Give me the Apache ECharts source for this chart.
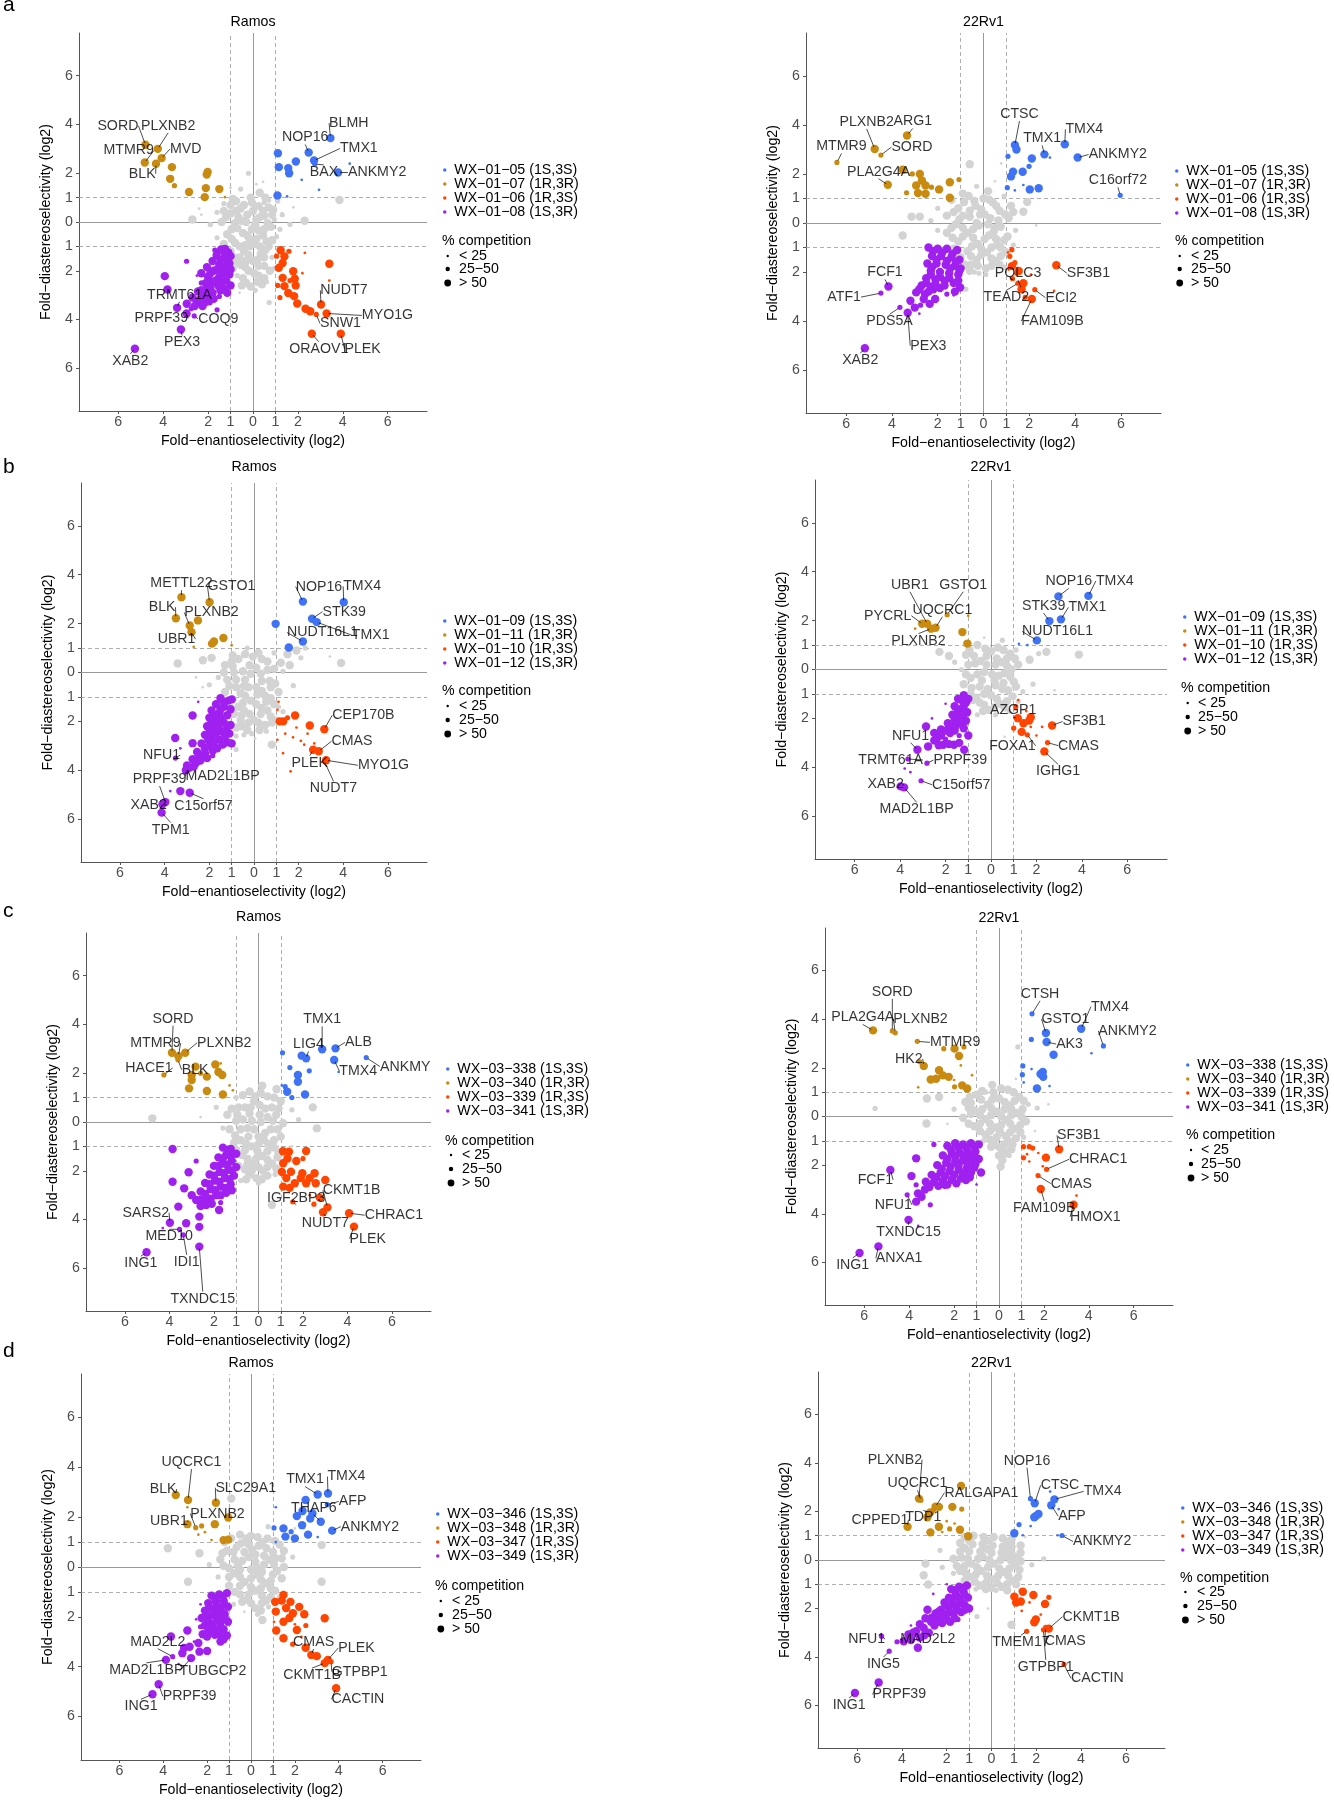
<!DOCTYPE html>
<html><head><meta charset="utf-8">
<script src="https://cdn.jsdelivr.net/npm/echarts@6/dist/echarts.min.js"></script>
<style>html,body{margin:0;padding:0;background:#fff}#c{width:1334px;height:1800px}</style>
</head><body><div id="c"></div>
<script>
// ---------- tick labels and texts ----------
const tickValues = [-6,-4,-2,-1,0,1,2,4,6];
const sizeLegendLabels = ['< 25','25\u221250','> 50'];
const compTitle = '% competition';
const xName = 'Fold\u2212enantioselectivity (log2)';
const yName = 'Fold\u2212diastereoselectivity (log2)';
const cellLines = ['Ramos','22Rv1','Ramos','22Rv1','Ramos','22Rv1','Ramos','22Rv1'];
const panelLetters = ['a','b','c','d'];
const namesA = ['WX\u221201\u221205 (1S,3S)','WX\u221201\u221207 (1R,3R)','WX\u221201\u221206 (1R,3S)','WX\u221201\u221208 (1S,3R)'];
const namesB = ['WX\u221201\u221209 (1S,3S)','WX\u221201\u221211 (1R,3R)','WX\u221201\u221210 (1R,3S)','WX\u221201\u221212 (1S,3R)'];
const namesC = ['WX\u221203\u2212338 (1S,3S)','WX\u221203\u2212340 (1R,3R)','WX\u221203\u2212339 (1R,3S)','WX\u221203\u2212341 (1S,3R)'];
const namesD = ['WX\u221203\u2212346 (1S,3S)','WX\u221203\u2212348 (1R,3R)','WX\u221203\u2212347 (1R,3S)','WX\u221203\u2212349 (1S,3R)'];

// ---------- data: [enantio log2, diastereo log2, competition class 1:<25 2:25-50 3:>50] ----------
// Panel a, Ramos
const greyA1 = [[-0.2,2.0,2],[0.15,1.55,1],[-0.55,1.35,2],[0.3,1.2,3],[-0.1,1.0,3],[-0.9,0.95,3],[0.7,0.9,2],[1.1,0.85,2],[-1.3,0.75,2],[-0.4,0.7,3],[0.25,0.65,3],[0.9,0.5,3],[-0.75,0.45,3],[-1.6,0.4,2],[-2.3,0.3,1],[-2.7,0.1,3],[-1.2,0.2,3],[-0.25,0.3,3],[0.5,0.25,3],[1.3,0.3,2],[2.3,0.05,3],[1.65,-0.1,2],[-1.9,-0.1,2],[-0.8,-0.05,3],[0.1,-0.1,3],[0.8,-0.2,3],[-0.45,-0.45,3],[0.45,-0.55,3],[-1.15,-0.5,3],[1.05,-0.6,2],[-1.6,-0.65,2],[-0.8,-0.85,3],[0.05,-0.9,3],[0.7,-1.0,3],[-0.4,-1.2,3],[0.35,-1.3,3],[-0.85,-1.45,3],[0.85,-1.45,2],[0,-1.6,3],[-0.55,-1.75,3],[0.5,-1.8,3],[-0.2,-2.0,3],[0.25,-2.2,3],[-0.7,-2.2,2],[0.6,-2.45,2],[-0.3,-2.5,3],[0.1,-2.8,2],[-0.6,-2.9,1],[0.72,-3.3,2],[3.85,0.9,3],[-1.5,-1.2,2],[1.2,-1.3,1],[0.5,-0.3,3],[-0.5,0.05,3],[0.95,0.1,2],[-2.4,0.55,1],[1.8,0.6,1],[-1.0,1.4,1],[0.45,1.65,1],[-0.9,-2.6,1],[-0.15,-0.7,3],[0.3,-1.0,3],[-0.6,-1.0,3],[-0.3,0.0,3],[0.3,0.2,3],[-1.0,0.7,3],[0.55,1.0,3],[-0.65,0.2,3],[0.7,0.6,3],[-0.95,-0.3,3],[0.25,-0.35,3],[0.85,-0.75,3],[-0.35,-0.95,3],[0.55,-1.15,3],[-0.6,-1.45,3],[0.2,-1.55,3],[-0.9,-1.9,3],[0.75,-2.0,3],[-0.45,-2.3,3],[0.4,-2.55,3],[-0.1,-2.65,3],[-1.3,-0.9,3],[1.2,-0.3,2],[-1.4,0.0,3],[0.0,0.45,3],[-0.2,-1.35,3],[0.95,-1.9,2],[-0.05,0.8,3],[-0.55,0.55,3],[0.45,0.45,3],[-1.0,0.35,3],[0.15,0.1,3],[-0.05,-0.3,3],[-0.7,-0.25,3],[0.65,-0.05,3],[-0.25,-0.55,3],[0.6,-0.8,3],[-0.95,-0.7,3],[0.15,-0.7,3],[-0.15,-1.0,3],[0.5,-1.45,3],[-0.3,-1.6,3],[0.25,-1.8,3],[-0.75,-1.6,3],[-0.35,-1.85,3],[0.05,-2.1,3],[0.5,-2.3,3],[-0.5,-2.6,3],[0.2,-2.45,3],[-1.0,-1.2,3],[0.85,0.3,3],[-1.3,0.45,3],[-0.75,0.85,3],[0.5,0.8,2]];
const blueA1 = [[3.45,3.44,3],[2.48,2.85,3],[2.72,2.52,3],[1.11,2.82,3],[1.15,2.25,3],[1.61,2.0,3],[1.91,2.48,3],[1.57,2.21,3],[2.75,2.38,2],[3.79,2.03,3],[4.31,2.39,1],[2.17,1.73,1],[2.94,1.32,1],[1.09,1.09,3],[1.52,1.05,1]];
const orangeA1 = [[-4.79,3.17,3],[-4.24,3.0,3],[-4.82,2.44,3],[-4.07,2.62,3],[-4.32,2.39,3],[-3.61,2.25,3],[-3.69,1.77,3],[-3.5,1.49,2],[-2.85,1.23,3],[-2.02,2.05,3],[-2.06,1.95,3],[-2.1,1.39,3],[-1.5,1.35,3],[-2.15,1.02,3],[-1.25,1.02,1]];
const redA1 = [[1.23,-1.16,3],[1.40,-1.41,3],[1.32,-1.68,3],[1.15,-1.88,3],[1.79,-2.02,3],[1.86,-2.33,3],[1.32,-2.29,3],[1.40,-2.63,3],[1.57,-2.91,3],[1.83,-3.04,3],[1.97,-3.34,3],[2.34,-3.56,3],[2.55,-3.66,3],[3.03,-3.38,3],[3.28,-3.75,3],[2.82,-3.79,2],[2.62,-4.58,3],[3.91,-4.58,3],[3.40,-1.71,3],[2.31,-1.27,1],[2.2,-2.1,1],[3.4,-2.4,1],[1.05,-1.4,2],[1.2,-3.1,2],[1.1,-2.6,2],[1.6,-1.2,2],[1.9,-2.6,3],[1.65,-2.4,2]];
const purpleA1 = [[-1.42,-1.13,3],[-1.1,-1.25,3],[-1.62,-1.35,3],[-1.25,-1.5,3],[-1.05,-1.7,3],[-1.8,-1.6,3],[-1.5,-1.75,3],[-2.05,-1.85,3],[-1.3,-1.95,3],[-1.75,-2.0,3],[-2.3,-2.1,3],[-1.05,-2.15,3],[-2.0,-2.25,3],[-1.5,-2.25,3],[-1.2,-2.4,3],[-1.8,-2.45,3],[-2.3,-2.5,2],[-1.55,-2.6,3],[-2.05,-2.7,3],[-1.25,-2.75,3],[-2.45,-2.85,3],[-1.8,-2.9,3],[-2.2,-3.05,3],[-2.7,-3.1,3],[-1.5,-3.05,2],[-1.95,-3.25,3],[-2.5,-3.3,3],[-2.95,-3.35,3],[-2.25,-3.45,3],[-2.75,-3.55,2],[-1.6,-3.6,2],[-1.0,-1.4,3],[-1.0,-2.6,3],[-1.0,-1.95,3],[-2.96,-1.61,2],[-3.93,-2.22,3],[-3.81,-2.77,3],[-3.38,-3.52,3],[-2.96,-3.75,3],[-2.62,-3.85,2],[-3.21,-4.41,3],[-5.26,-5.2,3],[-1.25,-1.1,3],[-1.7,-1.15,2],[-2.5,-2.2,1],[-1.25,-1.3,3],[-1.45,-1.55,3],[-1.2,-1.8,3],[-1.6,-1.95,3],[-1.9,-2.1,3],[-1.35,-2.1,3],[-1.65,-2.4,3],[-2.1,-2.5,3],[-1.4,-2.5,3],[-1.9,-2.7,3],[-1.45,-2.8,3],[-2.3,-2.8,3],[-2.0,-2.95,3],[-2.4,-3.2,3],[-1.75,-3.15,3],[-2.15,-3.3,3],[-2.6,-3.45,3],[-1.15,-2.9,3]];
const genesA1 = [['SORD',-4.79,3.17],['PLXNB2',-4.24,3.0],['MTMR9',-4.82,2.44],['MVD',-4.07,2.62],['BLK',-4.32,2.39],['NOP16',2.48,2.85],['BLMH',3.45,3.44],['TMX1',2.72,2.52],['BAX',2.75,2.38],['ANKMY2',3.79,2.03],['NUDT7',3.03,-3.38],['MYO1G',3.28,-3.75],['SNW1',2.82,-3.79],['ORAOV1',2.62,-4.58],['PLEK',3.91,-4.58],['TRMT61A',-3.38,-3.52],['PRPF39',-2.96,-3.75],['COQ9',-2.62,-3.85],['PEX3',-3.21,-4.41],['XAB2',-5.26,-5.2]];
// Panel a, 22Rv1
const greyA2 = [[-0.6,2.4,3],[0.77,2.43,1],[-0.3,1.5,2],[0.2,1.3,3],[-0.9,1.2,3],[0.9,1.1,2],[-1.4,0.95,3],[-0.4,0.9,3],[0.4,0.85,3],[1.91,0.86,3],[1.2,0.7,3],[-1.1,0.6,3],[-0.1,0.55,3],[0.7,0.5,3],[1.74,0.46,3],[-1.6,0.3,3],[-0.6,0.25,3],[0.3,0.2,3],[1.1,0.2,3],[-3.14,0.26,3],[-2.78,0.26,3],[-2.3,0.1,2],[-1.2,-0.05,3],[-0.2,-0.1,3],[0.75,-0.15,3],[1.4,-0.3,2],[-3.53,-0.51,3],[-1.6,-0.4,3],[-0.7,-0.4,3],[0.25,-0.5,3],[1.05,-0.55,3],[-1.1,-0.75,3],[-0.25,-0.85,3],[0.6,-0.9,3],[-0.7,-1.15,3],[0.15,-1.2,3],[1.0,-1.2,3],[-0.3,-1.5,3],[0.55,-1.55,3],[-0.8,-1.7,3],[0.1,-1.85,3],[0.9,-1.8,2],[-0.4,-2.0,2],[-0.77,-2.7,2],[2.3,-0.1,1],[-2.0,0.6,2],[0.5,1.7,1],[-0.3,0.0,3],[0.5,-0.2,3],[-1.3,0.45,3],[-0.35,0.7,3],[0.55,0.7,3],[-0.9,0.3,3],[0.05,0.35,3],[0.95,0.35,3],[-1.4,-0.2,3],[-0.45,-0.25,3],[0.45,-0.35,3],[-0.9,-0.55,3],[0.05,-0.65,3],[0.9,-0.7,3],[-0.5,-0.95,3],[0.35,-1.0,3],[-1.0,-1.4,3],[-0.1,-1.3,3],[0.75,-1.35,3],[-0.55,-1.7,3],[0.35,-1.75,3],[-0.2,-2.05,2],[1.3,0.45,3],[0.0,1.0,3],[-0.65,1.1,3],[-2.0,-0.3,2],[-0.85,0.85,3],[0.25,0.95,3],[-0.15,0.35,3],[-0.6,0.5,3],[0.65,0.1,3],[-1.05,0.15,3],[-0.9,-0.2,3],[0.2,-0.05,3],[-0.45,-0.6,3],[0.55,-0.65,3],[-1.35,-0.6,3],[-0.1,-1.05,3],[0.75,-1.0,3],[-0.55,-1.35,3],[0.35,-1.45,3],[-0.25,-1.75,3],[0.7,-1.7,3],[-1.3,-1.05,3],[1.3,-0.9,2],[-0.6,-1.95,3],[0.1,-2.1,2]];
const blueA2 = [[1.37,3.18,3],[1.44,3.0,3],[2.66,2.8,3],[3.55,3.21,3],[4.11,2.67,3],[5.97,1.13,2],[1.07,2.72,2],[2.11,2.63,3],[1.99,2.31,2],[1.71,2.09,3],[1.29,2.09,3],[1.2,1.9,3],[1.04,1.44,2],[2.02,1.37,3],[2.41,1.42,3],[1.37,1.33,1],[2.9,2.67,1],[1.74,1.55,1]];
const orangeA2 = [[-3.34,3.57,3],[-4.75,3.02,3],[-4.48,2.77,2],[-6.4,2.47,2],[-4.18,1.56,3],[-3.53,2.17,3],[-3.11,2.0,2],[-2.78,2.0,3],[-2.69,1.73,3],[-2.53,1.53,3],[-2.94,1.53,3],[-3.36,1.23,2],[-2.86,1.22,3],[-2.53,1.19,3],[-1.47,1.66,3],[-1.94,1.37,3],[-1.47,1.03,3],[-1.07,1.77,2],[-2.27,1.46,2]];
const redA2 = [[1.24,-1.09,2],[1.15,-1.36,2],[1.37,-1.62,2],[1.24,-1.76,3],[1.54,-1.96,3],[1.27,-2.27,2],[1.74,-2.46,3],[1.66,-2.7,3],[2.11,-3.1,3],[2.24,-2.72,2],[3.18,-1.72,3],[1.82,-3.03,2],[1.5,-2.46,2],[3.08,-2.77,1],[2.07,-2.1,1],[1.07,-1.2,1],[1.45,-2.05,2],[1.1,-1.9,1]];
const purpleA2 = [[-2.4,-1.0,3],[-2.0,-1.05,3],[-1.6,-1.05,3],[-1.15,-1.1,3],[-2.25,-1.35,3],[-1.85,-1.35,3],[-1.4,-1.4,3],[-1.05,-1.5,3],[-2.45,-1.65,3],[-2.05,-1.65,3],[-1.65,-1.7,3],[-1.25,-1.75,3],[-2.3,-1.95,3],[-1.9,-2.0,3],[-1.5,-2.05,3],[-1.1,-2.1,3],[-2.5,-2.25,3],[-2.1,-2.3,3],[-1.7,-2.35,3],[-1.3,-2.45,3],[-2.7,-2.55,3],[-2.3,-2.6,3],[-1.9,-2.65,3],[-1.02,-2.63,3],[-2.94,-2.83,3],[-2.55,-2.9,3],[-2.19,-2.7,3],[-1.6,-2.9,2],[-2.61,-3.1,3],[-2.11,-3.1,3],[-3.19,-3.17,3],[-3.0,-3.45,3],[-1.3,-2.95,1],[-4.15,-2.59,3],[-4.48,-2.86,2],[-3.65,-3.44,2],[-3.31,-3.66,3],[-5.18,-5.11,3],[-2.8,-3.7,1],[-1.0,-1.85,3],[-2.2,-1.15,3],[-1.8,-1.2,3],[-1.35,-1.25,3],[-2.05,-1.5,3],[-1.6,-1.55,3],[-1.2,-1.6,3],[-2.25,-1.8,3],[-1.45,-1.85,3],[-1.05,-1.95,3],[-2.3,-2.1,3],[-1.9,-2.2,3],[-1.5,-2.25,3],[-2.5,-2.45,3],[-1.1,-2.35,3],[-2.1,-2.5,3],[-1.7,-2.55,3],[-2.4,-2.8,3],[-1.25,-2.8,3],[-2.8,-2.7,3],[-2.35,-3.3,3],[-2.75,-3.35,2]];
const genesA2 = [['PLXNB2',-4.75,3.02],['ARG1',-3.34,3.57],['MTMR9',-6.4,2.47],['SORD',-4.48,2.77],['PLA2G4A',-4.18,1.56],['CTSC',1.37,3.18],['TMX1',2.66,2.8],['TMX4',3.55,3.21],['ANKMY2',4.11,2.67],['C16orf72',5.97,1.13],['SF3B1',3.18,-1.72],['PQLC3',1.66,-2.7],['TEAD2',1.5,-2.46],['ECI2',2.24,-2.72],['FAM109B',2.11,-3.1],['FCF1',-4.15,-2.59],['ATF1',-4.48,-2.86],['PDS5A',-3.65,-3.44],['PEX3',-3.31,-3.66],['XAB2',-5.18,-5.11]];
// Panel b, Ramos
const greyB1 = [[-3.42,0.37,3],[-2.29,0.5,3],[-1.9,0.6,3],[-0.95,0.7,3],[3.9,0.39,3],[3.4,0.65,1],[1.76,-0.54,2],[0.8,-2.95,3],[-0.8,-3.15,2],[-2.3,-0.6,1],[1.2,0.4,3],[1.5,0.75,3],[1.9,0.9,3],[2.1,0.6,2],[1.6,0.3,3],[0.9,0.8,2],[2.3,1.0,2],[-0.3,1.0,2],[0.2,0.8,3],[-0.7,0.55,3],[0.6,0.45,3],[-1.3,0.3,3],[-0.2,0.3,3],[0.9,0.15,3],[-0.9,0.0,3],[0.3,-0.05,3],[-1.6,-0.2,2],[-0.4,-0.3,3],[0.7,-0.35,3],[-1.1,-0.55,3],[0.1,-0.6,3],[1.1,-0.8,3],[-0.6,-0.85,3],[0.5,-0.95,3],[-0.15,-1.15,3],[0.9,-1.3,3],[-0.7,-1.4,3],[0.35,-1.45,3],[-0.2,-1.7,3],[0.75,-1.8,3],[-0.6,-1.95,3],[0.2,-2.05,3],[-0.3,-2.35,3],[0.55,-2.4,2],[-0.8,-2.6,2],[0.05,-2.7,1],[1.3,-1.6,2],[-2.0,-0.5,2],[-2.6,-0.2,1],[-1.0,0.45,3],[0.35,0.55,3],[-0.4,0.75,3],[-1.35,0.0,3],[-0.5,0.05,3],[0.6,0.1,3],[-0.8,-0.3,3],[0.35,-0.35,3],[-1.3,-0.8,3],[-0.25,-0.6,3],[0.75,-0.6,3],[-0.95,-1.1,3],[0.15,-0.9,3],[0.55,-1.2,3],[-0.45,-1.55,3],[0.6,-1.55,3],[-0.9,-1.7,3],[0.0,-1.95,3],[0.5,-2.15,3],[-0.55,-2.2,3],[-0.1,-2.5,2],[1.3,0.05,2],[1.0,-1.9,2],[-0.05,0.65,3],[-0.95,0.25,3],[0.1,0.2,3],[-0.15,-0.05,3],[-1.2,-0.3,3],[0.95,-0.45,3],[-0.45,-0.55,3],[-0.8,-0.6,3],[0.35,-0.75,3],[-0.4,-0.95,3],[0.1,-1.3,3],[0.75,-1.05,3],[-1.1,-1.4,3],[-0.5,-1.25,3],[0.3,-1.7,3],[-0.55,-1.75,3],[0.8,-2.05,3],[-0.25,-2.05,3],[-0.8,-2.25,3],[0.25,-2.35,3],[-0.45,-2.55,2],[1.1,-1.4,2]];
const blueB1 = [[2.19,2.9,3],[4.02,2.87,3],[2.6,2.2,3],[2.81,2.06,3],[0.97,1.99,3],[2.19,1.27,3],[1.56,1.02,3]];
const orangeB1 = [[-3.25,3.08,3],[-1.99,2.87,3],[-3.5,2.22,3],[-2.88,1.92,3],[-2.51,2.13,3],[-2.8,1.65,3],[-1.37,1.41,3],[-1.79,1.27,3],[-1.88,1.18,3],[-2.7,1.05,1],[-1.0,1.11,1],[-2.85,1.8,2]];
const redB1 = [[1.05,-1.53,1],[1.31,-2.0,3],[1.15,-2.0,3],[1.84,-1.76,3],[2.5,-2.17,3],[3.15,-2.32,3],[2.9,-3.22,3],[2.65,-3.16,3],[3.23,-3.59,3],[3.15,-3.63,2],[1.4,-2.5,1],[1.75,-2.65,1],[2.1,-2.8,1],[1.3,-3.3,1],[1.64,-4.04,1],[2.25,-2.95,1],[2.4,-2.5,1],[1.05,-2.75,1],[1.9,-2.25,1],[1.1,-1.2,1],[2.7,-2.9,1],[1.5,-1.85,2]];
const purpleB1 = [[-1.5,-1.05,3],[-1.15,-1.15,3],[-1.7,-1.3,3],[-1.35,-1.4,3],[-1.05,-1.5,3],[-1.9,-1.55,3],[-1.55,-1.65,3],[-1.2,-1.75,3],[-2.0,-1.85,3],[-1.7,-1.95,3],[-1.35,-2.05,3],[-1.05,-2.15,3],[-2.1,-2.2,3],[-1.8,-2.3,3],[-1.45,-2.4,3],[-1.1,-2.5,3],[-2.2,-2.55,3],[-1.9,-2.65,3],[-1.55,-2.75,3],[-1.2,-2.85,3],[-2.35,-2.9,3],[-2.0,-3.0,3],[-1.65,-3.1,3],[-2.55,-3.25,3],[-2.2,-3.3,3],[-1.85,-3.4,2],[-2.75,-3.55,3],[-2.4,-3.6,3],[-3.0,-3.8,3],[-2.7,-3.85,3],[-1.0,-1.1,3],[-1.0,-2.9,3],[-2.75,-1.76,3],[-3.53,-2.68,3],[-2.75,-2.89,3],[-3.52,-3.5,2],[-3.05,-4.0,3],[-2.9,-3.9,3],[-3.3,-4.85,3],[-2.88,-4.92,3],[-3.75,-4.85,1],[-4.1,-5.39,3],[-4.14,-5.73,3],[-3.97,-5.3,3],[-2.5,-1.2,1],[-3.3,-3.1,1],[-1.35,-1.2,3],[-1.5,-1.5,3],[-1.75,-1.75,3],[-1.5,-1.85,3],[-1.9,-2.05,3],[-1.2,-2.25,3],[-1.6,-2.2,3],[-2.0,-2.45,3],[-1.3,-2.6,3],[-1.7,-2.5,3],[-2.05,-2.75,3],[-1.4,-2.95,3],[-1.8,-2.85,3],[-2.2,-3.1,3],[-1.85,-3.2,3],[-2.45,-3.45,3],[-2.1,-3.5,3],[-2.6,-3.7,3]];
const genesB1 = [['METTL22',-3.25,3.08],['GSTO1',-1.99,2.87],['BLK',-3.5,2.22],['PLXNB2',-2.88,1.92],['UBR1',-2.8,1.65],['NOP16',2.19,2.9],['TMX4',4.02,2.87],['STK39',2.6,2.2],['NUDT16L1',2.19,1.27],['TMX1',2.81,2.06],['CEP170B',3.15,-2.32],['CMAS',2.9,-3.22],['PLEK',2.65,-3.16],['MYO1G',3.23,-3.59],['NUDT7',3.15,-3.63],['NFU1',-3.52,-3.5],['PRPF39',-3.97,-5.3],['MAD2L1BP',-3.05,-4.0],['XAB2',-4.1,-5.39],['C15orf57',-2.88,-4.92],['TPM1',-4.14,-5.73]];
// Panel b, 22Rv1
const greyB2 = [[3.87,0.61,3],[-2.27,0.72,3],[-1.85,0.55,3],[2.44,0.72,3],[1.85,-0.6,2],[2.8,-0.85,1],[0.6,-2.75,1],[-0.6,1.0,3],[0.3,0.9,3],[1.1,0.8,2],[-1.1,0.6,3],[-0.2,0.55,3],[0.7,0.45,3],[-0.7,0.25,3],[0.2,0.2,3],[1.2,0.2,3],[-1.3,0.0,2],[-0.3,-0.1,3],[0.6,-0.15,3],[-0.9,-0.35,3],[0.15,-0.45,3],[1.0,-0.5,3],[-0.5,-0.7,3],[0.5,-0.8,3],[-0.9,-1.0,3],[0.0,-1.05,3],[0.95,-1.1,3],[-0.5,-1.35,3],[0.4,-1.4,3],[-0.1,-1.65,3],[0.8,-1.7,2],[-0.6,-1.85,2],[1.4,-0.9,2],[0.5,1.2,2],[-0.3,1.3,1],[-1.6,0.3,2],[1.7,0.4,3],[2.1,0.65,2],[-0.95,0.8,3],[0.0,0.75,3],[0.85,0.65,3],[-0.45,0.35,3],[0.45,0.3,3],[-1.0,0.2,3],[0.9,0.0,3],[-0.6,-0.2,3],[0.35,-0.25,3],[-1.2,-0.6,3],[-0.15,-0.8,3],[0.75,-0.85,3],[-0.65,-1.15,3],[0.25,-1.2,3],[1.2,-1.3,2],[-0.3,-1.45,3],[0.6,-1.55,3],[0.2,-1.85,2],[-1.1,-1.4,2],[-0.25,0.85,3],[0.55,0.8,3],[-0.75,0.55,3],[0.25,0.45,3],[1.05,0.45,3],[-0.2,0.2,3],[0.7,0.15,3],[-1.1,-0.2,3],[0.05,-0.2,3],[0.85,-0.3,3],[-0.4,-0.45,3],[0.55,-0.55,3],[-0.85,-0.75,3],[0.2,-0.65,3],[1.1,-0.7,3],[-0.3,-1.0,3],[0.7,-1.3,3],[-0.8,-1.25,3],[0.15,-1.55,3],[-0.35,-1.7,3]];
const blueB2 = [[2.97,2.99,3],[4.29,3.01,3],[2.57,1.98,3],[3.08,2.05,3],[2.02,1.19,3],[1.23,1.05,1],[1.6,1.0,1]];
const orangeB2 = [[-1.93,2.24,2],[-2.81,1.87,3],[-3.03,1.87,3],[-2.44,1.71,3],[-2.64,1.67,3],[-1.26,1.53,3],[-1.04,1.06,3],[-1.0,2.2,1],[-3.34,1.67,1]];
const redB2 = [[1.09,-1.52,2],[1.18,-1.99,3],[1.43,-2.2,3],[1.68,-2.09,3],[1.75,-1.95,3],[2.69,-2.29,3],[2.49,-2.99,2],[1.6,-2.67,2],[2.35,-3.35,3],[1.35,-2.55,3],[1.75,-2.35,1],[2.25,-2.35,1],[1.2,-1.25,1],[1.0,-2.4,2],[1.55,-1.7,1],[2.0,-2.7,1]];
const purpleB2 = [[-1.2,-1.05,3],[-1.45,-1.2,3],[-1.1,-1.35,3],[-1.6,-1.5,3],[-1.3,-1.6,3],[-1.05,-1.75,3],[-1.7,-1.85,3],[-1.4,-1.95,3],[-1.1,-2.1,3],[-1.9,-2.2,3],[-1.55,-2.3,3],[-1.2,-2.4,3],[-2.2,-2.45,3],[-1.8,-2.6,3],[-1.4,-2.7,2],[-2.86,-2.33,3],[-2.5,-2.6,3],[-2.77,-3.15,3],[-2.1,-3.08,3],[-1.63,-3.08,3],[-1.18,-3.28,3],[-2.4,-2.85,3],[-2.0,-2.85,2],[-3.24,-3.28,3],[-3.66,-3.66,2],[-2.82,-3.83,2],[-3.08,-4.55,2],[-3.98,-4.78,3],[-3.83,-4.82,3],[-3.8,-4.05,1],[-3.55,-4.2,1],[-2.0,-1.4,1],[-2.6,-2.0,1],[-1.0,-2.7,3],[-1.0,-1.2,3],[-1.3,-1.25,3],[-1.2,-1.5,3],[-1.45,-1.7,3],[-1.2,-1.85,3],[-1.6,-2.05,3],[-1.35,-2.2,3],[-1.75,-2.35,3],[-2.0,-2.5,3],[-1.6,-2.5,3],[-2.2,-2.7,3],[-2.5,-2.9,3],[-2.3,-3.1,3],[-1.4,-3.0,3],[-1.85,-3.05,3]];
const genesB2 = [['UBR1',-2.81,1.87],['GSTO1',-1.93,2.24],['UQCRC1',-2.44,1.71],['PYCRL',-3.03,1.87],['PLXNB2',-2.64,1.67],['NOP16',2.97,2.99],['TMX4',4.29,3.01],['STK39',2.57,1.98],['TMX1',3.08,2.05],['NUDT16L1',2.02,1.19],['AZGP1',1.18,-1.99],['SF3B1',2.69,-2.29],['FOXA1',1.6,-2.67],['CMAS',2.49,-2.99],['IGHG1',2.35,-3.35],['NFU1',-3.24,-3.28],['TRMT61A',-3.66,-3.66],['PRPF39',-2.82,-3.83],['C15orf57',-3.08,-4.55],['XAB2',-3.98,-4.78],['MAD2L1BP',-3.83,-4.82]];
// Panel c, Ramos
const greyC1 = [[-4.77,0.15,3],[0.17,1.49,3],[0.81,1.34,3],[2.44,0.6,3],[2.62,-0.26,3],[0.6,-3.4,3],[-1.9,0.6,2],[-2.6,0.2,1],[-0.4,1.25,3],[-1.0,1.0,2],[0.4,1.05,3],[-0.2,0.85,3],[1.0,0.85,3],[-0.9,0.6,3],[0.3,0.55,3],[-1.4,0.3,3],[-0.4,0.35,3],[0.8,0.3,3],[1.5,0.5,2],[-1.0,0.05,3],[0.1,0.0,3],[1.1,-0.05,3],[-1.6,-0.25,2],[-0.5,-0.25,3],[0.55,-0.3,3],[-1.05,-0.55,3],[0.0,-0.6,3],[1.0,-0.6,3],[-0.55,-0.9,3],[0.45,-0.9,3],[-1.0,-1.15,3],[-0.05,-1.2,3],[0.9,-1.25,3],[-0.5,-1.5,3],[0.4,-1.55,3],[-0.9,-1.8,3],[0.0,-1.85,3],[0.8,-1.9,3],[-0.4,-2.15,3],[0.4,-2.2,3],[-0.8,-2.4,2],[0.0,-2.5,2],[1.5,-1.0,1],[1.8,0.1,2],[-0.7,1.1,3],[0.1,1.2,3],[0.7,1.0,3],[-0.6,0.6,3],[0.6,0.6,3],[-1.2,0.55,3],[-0.7,0.1,3],[0.4,0.2,3],[-1.3,-0.3,3],[-0.2,-0.3,3],[0.85,-0.3,3],[-0.8,-0.75,3],[0.25,-0.75,3],[-0.3,-1.0,3],[0.7,-1.05,3],[-0.75,-1.35,3],[0.15,-1.4,3],[-0.25,-1.7,3],[0.6,-1.7,3],[-0.6,-1.95,3],[0.2,-2.0,3],[-0.1,-2.3,3],[-1.2,-1.55,2],[1.1,-1.6,2],[-0.15,1.05,3],[0.05,0.7,3],[-0.35,0.6,3],[0.9,0.55,3],[-0.95,0.3,3],[0.05,0.3,3],[-0.3,0.05,3],[0.65,0.05,3],[-0.8,-0.3,3],[0.3,-0.45,3],[-0.45,-0.6,3],[0.7,-0.75,3],[-1.1,-0.85,3],[0.0,-0.9,3],[-0.6,-1.15,3],[0.4,-1.2,3],[-0.1,-1.5,3],[0.85,-1.45,3],[-0.5,-1.75,3],[0.4,-1.85,3],[-0.3,-2.0,3],[0.15,-2.35,3],[-0.55,-2.35,3],[0.75,-2.15,2]];
const blueC1 = [[2.86,2.98,3],[3.46,3.02,3],[2.14,2.61,3],[1.94,2.72,3],[3.4,2.54,3],[4.84,2.64,2],[1.08,2.84,2],[1.41,2.23,2],[1.77,1.93,3],[1.77,1.65,3],[2.28,2.1,2],[2.09,1.13,3],[1.29,1.24,3],[1.2,1.45,2],[3.6,2.05,1],[1.5,1.0,2],[1.05,1.5,1]];
const orangeC1 = [[-3.89,2.84,3],[-3.6,2.7,3],[-3.29,2.84,3],[-3.62,2.55,2],[-4.25,1.93,2],[-2.83,2.27,3],[-3.0,1.93,3],[-3.0,1.72,3],[-2.32,1.86,3],[-1.94,2.36,3],[-1.63,1.93,3],[-3.12,1.38,3],[-2.32,1.27,3],[-1.6,1.13,3],[-1.3,1.5,1],[-1.7,2.4,1],[-1.15,1.3,1],[-1.8,2.05,3],[-2.6,2.0,2]];
const redC1 = [[1.37,-1.22,3],[2.14,-1.19,3],[1.11,-1.69,3],[1.46,-2.04,3],[1.97,-2.1,3],[2.52,-2.1,3],[3.0,-2.38,3],[1.63,-2.51,3],[1.11,-2.65,3],[2.14,-2.51,3],[2.57,-2.51,3],[1.54,-3.27,2],[2.49,-3.37,2],[3.1,-3.5,3],[2.9,-3.7,3],[4.07,-3.74,3],[4.29,-4.29,3],[1.25,-2.3,3],[1.9,-2.3,3],[1.3,-1.5,3],[1.1,-1.2,3],[1.7,-1.6,3],[2.3,-2.3,3],[1.05,-2.05,3],[2.0,-1.5,2],[1.4,-2.7,3],[2.75,-3.1,3],[2.3,-3.0,1]];
const purpleC1 = [[-1.6,-1.05,3],[-1.25,-1.1,3],[-1.0,-1.3,3],[-1.45,-1.35,3],[-1.8,-1.45,3],[-1.2,-1.6,3],[-1.6,-1.7,3],[-2.0,-1.8,3],[-1.0,-1.85,3],[-1.35,-1.95,3],[-1.75,-2.05,3],[-2.2,-2.15,3],[-1.1,-2.2,3],[-1.5,-2.3,3],[-1.95,-2.4,3],[-2.4,-2.5,3],[-1.25,-2.55,3],[-1.7,-2.65,3],[-2.15,-2.75,3],[-2.6,-2.85,3],[-1.45,-2.9,3],[-1.9,-3.0,3],[-2.35,-3.1,3],[-2.8,-3.2,3],[-2.1,-3.35,3],[-2.6,-3.45,3],[-1.7,-3.3,2],[-3.86,-1.11,3],[-3.14,-2.06,3],[-3.86,-2.45,3],[-3.34,-2.72,3],[-3.6,-3.47,3],[-2.66,-3.88,3],[-1.77,-3.61,3],[-3.98,-4.13,3],[-3.55,-4.4,2],[-3.38,-4.63,2],[-2.66,-5.11,3],[-5.03,-5.34,3],[-3.25,-4.15,3],[-2.66,-4.3,3],[-4.3,-4.35,1],[-2.8,-1.6,2],[-3.0,-3.0,3],[-1.4,-1.15,3],[-1.25,-1.4,3],[-1.6,-1.5,3],[-1.4,-1.75,3],[-1.8,-1.8,3],[-1.2,-2.0,3],[-1.55,-2.1,3],[-2.0,-2.2,3],[-1.3,-2.35,3],[-1.75,-2.45,3],[-2.2,-2.55,3],[-1.5,-2.7,3],[-1.95,-2.8,3],[-2.4,-2.95,3],[-1.7,-3.0,3],[-2.15,-3.15,3],[-2.6,-3.2,3],[-2.35,-3.4,3],[-1.2,-2.8,3]];
const genesC1 = [['SORD',-3.89,2.84],['MTMR9',-3.6,2.7],['PLXNB2',-3.29,2.84],['HACE1',-4.25,1.93],['BLK',-3.62,2.55],['TMX1',2.86,2.98],['LIG4',2.14,2.61],['ALB',3.46,3.02],['TMX4',3.4,2.54],['ANKMY',4.84,2.64],['IGF2BP3',1.54,-3.27],['CKMT1B',3.1,-3.5],['NUDT7',2.9,-3.7],['CHRAC1',4.07,-3.74],['PLEK',4.29,-4.29],['SARS2',-3.98,-4.13],['MED10',-3.55,-4.4],['IDI1',-3.38,-4.63],['TXNDC15',-2.66,-5.11],['ING1',-5.03,-5.34]];
// Panel c, 22Rv1
const greyC2 = [[-5.52,0.33,2],[-3.23,-0.29,3],[-3.21,0.74,3],[-2.67,0.8,3],[0.84,2.86,2],[0.07,-2.06,3],[0.24,-1.52,3],[-0.6,1.0,2],[0.75,1.55,1],[1.7,0.35,2],[2.2,0.5,1],[-0.3,1.3,3],[0.4,1.1,3],[-1.0,0.9,3],[0.0,0.75,3],[0.9,0.8,3],[-1.5,0.6,3],[-0.5,0.5,3],[0.5,0.45,3],[1.3,0.5,2],[-1.1,0.25,3],[-0.1,0.2,3],[0.8,0.15,3],[-1.6,-0.05,3],[-0.6,-0.1,3],[0.35,-0.15,3],[1.2,-0.2,3],[-1.1,-0.4,3],[-0.15,-0.45,3],[0.7,-0.5,3],[-0.6,-0.75,3],[0.3,-0.8,3],[1.1,-0.85,2],[-0.2,-1.1,3],[0.6,-1.15,3],[-0.7,-1.0,2],[0.2,-1.4,3],[-2.0,0.3,2],[-2.3,-0.3,1],[1.6,-0.6,1],[-1.3,0.8,3],[-0.25,1.0,3],[0.65,1.0,3],[-0.8,0.7,3],[0.25,0.6,3],[1.1,0.65,3],[-1.35,0.35,3],[-0.35,0.35,3],[0.55,0.3,3],[-0.85,0.05,3],[0.1,0.0,3],[1.0,0.0,3],[-1.35,-0.3,3],[-0.4,-0.3,3],[0.5,-0.3,3],[-0.85,-0.6,3],[0.05,-0.65,3],[0.95,-0.65,3],[-0.4,-0.95,3],[0.4,-1.0,3],[0.0,-1.25,3],[0.45,-1.6,2],[0.15,-1.8,3],[-0.75,1.05,3],[0.1,1.15,3],[-1.25,0.55,3],[-0.3,0.7,3],[0.7,0.65,3],[-0.75,0.3,3],[0.25,0.3,3],[1.05,0.3,3],[-1.25,0.1,3],[-0.35,0.05,3],[0.55,0.05,3],[-0.85,-0.3,3],[0.1,-0.35,3],[0.95,-0.35,3],[-0.4,-0.6,3],[0.5,-0.65,3],[-0.1,-0.85,3],[0.75,-0.9,3],[0.25,-1.15,3],[-0.35,-1.25,3],[0.55,-1.35,3],[0.0,-1.6,3]];
const blueC2 = [[1.47,4.22,2],[3.66,3.61,3],[2.09,3.43,3],[2.12,3.06,3],[1.44,3.17,2],[4.65,2.9,2],[4.12,2.6,1],[2.43,2.54,3],[1.06,2.08,2],[1.04,1.72,2],[1.95,1.83,3],[1.97,1.63,3],[1.69,1.15,3],[2.25,1.25,1],[1.1,1.4,1],[1.45,1.95,1],[1.85,1.75,3]];
const orangeC2 = [[-5.61,3.54,3],[-4.75,3.52,2],[-4.62,3.44,2],[-3.64,3.09,2],[-2.46,2.79,2],[-1.98,2.79,3],[-1.56,2.86,2],[-1.78,2.49,3],[-3.35,2.08,3],[-3.53,2.25,2],[-2.67,1.9,3],[-2.5,1.69,3],[-2.24,1.63,3],[-3.04,1.52,3],[-1.64,1.28,3],[-1.42,1.15,3],[-1.98,1.22,2],[-3.6,1.2,1],[-1.7,2.1,1],[-1.2,1.7,1],[-2.8,1.55,3],[-2.0,1.5,1]];
const redC2 = [[2.68,-1.35,3],[1.09,-1.24,2],[1.35,-1.24,2],[1.09,-1.7,2],[1.75,-1.5,1],[2.09,-1.69,3],[2.12,-2.17,2],[1.74,-2.43,2],[1.86,-2.98,3],[3.32,-3.63,3],[3.45,-3.25,1],[1.95,-2.05,1],[1.35,-1.85,1],[1.25,-1.55,1],[1.5,-1.3,2]];
const purpleC2 = [[-0.9,-1.15,3],[-1.25,-1.1,3],[-1.6,-1.15,3],[-1.95,-1.1,3],[-2.3,-1.2,3],[-2.9,-1.15,2],[-1.05,-1.45,3],[-1.4,-1.45,3],[-1.75,-1.5,3],[-2.1,-1.5,3],[-2.5,-1.6,3],[-0.9,-1.75,3],[-1.25,-1.8,3],[-1.6,-1.8,3],[-1.95,-1.85,3],[-2.35,-1.9,3],[-2.75,-2.0,3],[-1.1,-2.1,3],[-1.45,-2.15,3],[-1.8,-2.2,3],[-2.2,-2.25,3],[-2.6,-2.3,3],[-3.0,-2.4,3],[-1.3,-2.5,3],[-1.7,-2.55,3],[-2.1,-2.6,3],[-2.5,-2.65,3],[-2.9,-2.7,3],[-1.47,-2.61,3],[-2.41,-2.81,3],[-3.26,-2.68,3],[-4.84,-2.2,3],[-3.9,-2.45,3],[-3.69,-1.72,3],[-3.69,-2.81,2],[-4.09,-3.22,2],[-3.61,-3.16,3],[-3.69,-3.5,3],[-3.06,-3.63,2],[-4.03,-4.25,3],[-5.37,-5.34,3],[-6.21,-5.61,3],[-3.3,-3.0,3],[-0.8,-2.3,3],[-1.0,-2.8,1],[-3.6,-4.5,1],[-1.1,-1.25,3],[-1.45,-1.3,3],[-1.8,-1.3,3],[-2.15,-1.35,3],[-1.2,-1.6,3],[-1.55,-1.65,3],[-1.95,-1.65,3],[-2.3,-1.75,3],[-1.05,-1.95,3],[-1.4,-1.95,3],[-1.8,-2.0,3],[-2.15,-2.05,3],[-2.55,-2.15,3],[-1.25,-2.3,3],[-1.6,-2.35,3],[-2.0,-2.4,3],[-2.4,-2.45,3],[-2.8,-2.5,3],[-1.9,-2.75,3],[-2.3,-2.8,3],[-2.7,-2.85,3],[-3.1,-2.9,3],[-3.45,-3.3,3]];
const genesC2 = [['SORD',-4.75,3.52],['PLXNB2',-4.62,3.44],['PLA2G4A',-5.61,3.54],['MTMR9',-3.64,3.09],['HK2',-3.35,2.08],['CTSH',1.47,4.22],['TMX4',3.66,3.61],['GSTO1',2.09,3.43],['AK3',2.12,3.06],['ANKMY2',4.65,2.9],['SF3B1',2.68,-1.35],['CHRAC1',2.12,-2.17],['CMAS',1.74,-2.43],['FAM109B',1.86,-2.98],['HMOX1',3.32,-3.63],['FCF1',-4.84,-2.2],['NFU1',-4.09,-3.22],['TXNDC15',-4.03,-4.25],['ANXA1',-5.37,-5.34],['ING1',-6.21,-5.61]];
// Panel d, Ramos
const greyD1 = [[-3.79,0.75,3],[-0.9,2.75,3],[-2.87,-0.59,3],[-2.35,0.55,3],[3.22,0.88,3],[3.22,-0.59,3],[0.52,-2.13,3],[0.78,1.62,2],[2.0,1.55,1],[1.9,0.4,2],[-1.9,0.1,2],[-0.5,1.3,3],[0.3,1.2,3],[1.1,1.05,3],[-1.2,1.0,3],[-0.1,0.9,3],[0.7,0.75,3],[1.5,0.65,3],[-0.8,0.6,3],[0.2,0.5,3],[1.1,0.35,3],[-1.4,0.3,3],[-0.4,0.25,3],[0.6,0.1,3],[1.5,0.0,3],[-1.0,-0.05,3],[0.0,-0.1,3],[1.0,-0.3,3],[-1.5,-0.4,2],[-0.5,-0.4,3],[0.45,-0.5,3],[-1.0,-0.75,3],[0.0,-0.8,3],[0.9,-0.85,3],[-0.5,-1.1,3],[0.5,-1.15,3],[1.3,-1.2,2],[0.0,-1.45,3],[-0.8,-1.5,2],[0.8,-1.6,2],[0.3,-1.9,2],[-0.3,-1.8,1],[-0.9,1.15,3],[0.0,1.25,3],[0.75,1.15,3],[-0.45,0.95,3],[0.35,0.85,3],[1.3,0.9,3],[-1.1,0.65,3],[-0.3,0.6,3],[0.6,0.45,3],[1.4,0.35,3],[-0.75,0.3,3],[0.2,0.2,3],[1.05,0.1,3],[-1.25,0.05,3],[-0.5,-0.1,3],[0.5,-0.2,3],[1.4,-0.45,3],[-1.0,-0.4,3],[0.0,-0.45,3],[0.9,-0.55,3],[-0.5,-0.75,3],[0.45,-0.85,3],[-0.1,-1.1,3],[0.9,-1.2,3],[-0.4,-1.4,3],[0.5,-1.45,3],[0.2,-1.65,3],[-0.2,1.15,3],[0.5,1.0,3],[-0.65,0.8,3],[0.05,0.7,3],[1.0,0.6,3],[-1.3,0.55,3],[-0.1,0.4,3],[0.85,0.3,3],[-0.6,0.05,3],[0.3,-0.05,3],[1.2,-0.15,3],[-0.75,-0.25,3],[0.25,-0.3,3],[-0.3,-0.6,3],[0.65,-0.65,3],[-0.75,-1.0,3],[0.2,-0.95,3],[1.1,-0.95,3],[-0.2,-1.3,3],[0.7,-1.35,3],[0.45,-1.75,3]];
const blueD1 = [[3.04,2.91,3],[3.51,2.95,3],[2.49,2.69,3],[3.18,1.82,3],[3.48,2.51,2],[2.09,2.05,3],[2.35,2.25,3],[2.7,1.95,3],[2.8,2.15,3],[2.33,1.68,3],[3.7,1.46,3],[1.48,1.55,3],[1.83,1.42,2],[2.0,1.15,3],[1.57,1.22,3],[1.05,1.57,2],[1.13,2.4,1],[3.04,1.2,1],[1.13,1.0,1],[2.6,1.3,3]];
const orangeD1 = [[-3.43,2.89,3],[-2.87,2.69,3],[-1.6,2.58,3],[-2.9,1.72,3],[-2.52,1.58,2],[-1.65,1.72,3],[-1.04,1.99,3],[-2.25,1.65,2],[-1.25,1.08,3],[-1.04,1.1,3],[-1.8,1.08,1],[-2.4,1.3,1],[-2.9,2.4,1],[-2.1,1.4,1]];
const redD1 = [[1.48,-1.12,3],[1.4,-1.35,3],[1.13,-1.79,3],[1.6,-1.65,3],[1.91,-1.86,3],[2.43,-1.9,3],[3.36,-2.06,3],[1.48,-2.2,3],[2.09,-2.53,3],[1.48,-2.86,3],[2.5,-2.35,2],[2.49,-3.24,3],[2.75,-3.53,3],[3.0,-3.58,3],[3.5,-3.73,3],[3.36,-3.86,3],[3.65,-3.8,2],[3.88,-4.87,3],[2.0,-2.3,1],[1.05,-2.2,1],[1.1,-1.4,3],[1.8,-1.4,3],[1.15,-2.55,3],[1.75,-2.05,3],[2.2,-1.6,3],[1.9,-3.1,2],[2.3,-2.8,1]];
const purpleD1 = [[-1.1,-1.05,3],[-1.45,-1.1,3],[-1.8,-1.15,3],[-1.25,-1.35,3],[-1.6,-1.4,3],[-1.95,-1.45,3],[-1.05,-1.6,3],[-1.4,-1.65,3],[-1.75,-1.7,3],[-2.1,-1.75,3],[-1.2,-1.9,3],[-1.55,-1.95,3],[-1.9,-2.0,3],[-2.25,-2.05,3],[-1.05,-2.2,3],[-1.4,-2.25,3],[-1.75,-2.3,3],[-2.1,-2.35,3],[-1.25,-2.5,3],[-1.6,-2.55,3],[-1.95,-2.6,3],[-2.3,-2.4,2],[-1.1,-2.75,3],[-2.9,-2.55,3],[-3.65,-2.79,3],[-2.0,-2.79,3],[-1.39,-2.99,3],[-2.0,-3.37,3],[-2.73,-3.66,3],[-3.13,-3.46,3],[-3.05,-3.25,3],[-3.57,-3.6,2],[-3.88,-3.73,3],[-4.21,-4.71,3],[-4.49,-5.11,3],[-1.65,-2.72,3],[-2.5,-2.1,1],[-2.6,-3.0,1],[-3.3,-3.9,1],[-2.3,-1.5,1],[-1.3,-1.2,3],[-1.65,-1.25,3],[-1.2,-1.5,3],[-1.55,-1.55,3],[-1.9,-1.6,3],[-1.35,-1.8,3],[-1.7,-1.85,3],[-2.05,-1.9,3],[-1.2,-2.05,3],[-1.55,-2.1,3],[-1.95,-2.2,3],[-1.4,-2.4,3],[-1.8,-2.45,3],[-1.45,-2.7,3],[-1.25,-2.9,3],[-2.2,-2.7,3],[-2.4,-3.05,3],[-2.8,-3.2,3],[-2.35,-3.4,3]];
const genesD1 = [['BLK',-3.43,2.89],['UQCRC1',-2.87,2.69],['SLC29A1',-1.6,2.58],['UBR1',-2.9,1.72],['PLXNB2',-2.52,1.58],['TMX1',3.04,2.91],['TMX4',3.51,2.95],['THAP6',3.18,1.82],['AFP',3.48,2.51],['ANKMY2',3.7,1.46],['CMAS',2.75,-3.53],['PLEK',3.5,-3.73],['CKMT1B',3.36,-3.86],['GTPBP1',3.65,-3.8],['CACTIN',3.88,-4.87],['MAD2L2',-3.57,-3.6],['MAD2L1BP',-3.88,-3.73],['TUBGCP2',-2.73,-3.66],['PRPF39',-4.21,-4.71],['ING1',-4.49,-5.11]];
// Panel d, 22Rv1
const greyD2 = [[-2.95,-0.15,3],[-3.03,-0.63,3],[-2.83,-1.01,3],[0.89,-2.67,3],[-0.65,-2.33,2],[2.33,0.05,2],[1.5,0.95,1],[-0.15,-2.0,1],[-2.3,0.4,2],[1.8,-0.2,2],[-0.8,1.0,3],[0.1,0.95,3],[0.9,0.85,3],[-1.4,0.7,3],[-0.4,0.65,3],[0.5,0.55,3],[1.3,0.6,3],[-1.0,0.35,3],[0.0,0.3,3],[0.9,0.25,3],[-1.7,0.05,3],[-0.6,0.05,3],[0.4,0.0,3],[1.3,-0.05,3],[-1.2,-0.25,3],[-0.15,-0.3,3],[0.8,-0.35,3],[-1.7,-0.55,2],[-0.7,-0.6,3],[0.3,-0.65,3],[1.2,-0.7,3],[-1.2,-0.85,3],[-0.25,-0.95,3],[0.7,-1.0,3],[-0.7,-1.2,2],[0.2,-1.25,2],[1.3,-1.25,2],[-2.2,-0.3,2],[-1.2,0.95,3],[-0.35,0.95,3],[0.5,0.9,3],[-0.85,0.65,3],[0.05,0.6,3],[0.9,0.55,3],[-1.4,0.35,3],[-0.5,0.35,3],[0.45,0.3,3],[1.3,0.3,3],[-1.05,0.05,3],[-0.1,0.0,3],[0.85,0.0,3],[-1.55,-0.25,3],[-0.65,-0.3,3],[0.35,-0.35,3],[1.25,-0.4,3],[-1.15,-0.55,3],[-0.2,-0.65,3],[0.75,-0.65,3],[-0.75,-0.9,3],[0.25,-0.95,3],[1.1,-1.0,3],[-0.25,-1.2,3],[0.7,-1.25,3],[-1.0,0.8,3],[-0.15,0.8,3],[0.7,0.75,3],[-1.2,0.5,3],[-0.2,0.45,3],[0.7,0.4,3],[-1.35,0.1,3],[-0.4,0.15,3],[0.6,0.15,3],[1.1,0.1,3],[-0.9,-0.15,3],[0.1,-0.15,3],[1.05,-0.2,3],[-1.4,-0.45,3],[-0.45,-0.45,3],[0.55,-0.5,3],[-0.95,-0.7,3],[0.05,-0.8,3],[0.95,-0.85,3],[-0.5,-1.05,3],[0.45,-1.1,3],[0.0,-1.15,3],[-1.0,-1.05,2]];
const blueD2 = [[1.74,2.53,2],[1.93,2.34,3],[2.81,2.5,3],[2.67,2.26,3],[1.99,1.82,3],[1.91,1.76,3],[1.23,1.46,2],[1.75,1.4,1],[1.02,1.1,3],[1.4,1.02,1],[3.15,1.01,2],[2.95,1.02,1],[2.62,2.82,1],[3.0,2.1,1],[2.1,1.9,3]];
const orangeD2 = [[-1.36,3.05,3],[-3.24,2.53,3],[-3.15,2.46,2],[-2.74,1.96,3],[-2.5,2.2,3],[-2.35,2.19,3],[-1.75,2.19,3],[-1.33,2.1,2],[-2.86,1.76,3],[-2.35,1.37,3],[-3.75,1.37,3],[-2.73,1.14,3],[-1.87,1.28,2],[-1.41,1.25,3],[-1.04,0.98,3],[-2.0,1.6,1],[-2.6,2.05,2],[-1.65,1.5,1],[-2.2,1.15,1]];
const redD2 = [[1.4,-1.31,3],[1.87,-1.44,3],[1.02,-1.51,3],[1.31,-1.71,3],[2.39,-1.81,3],[2.56,-1.54,2],[1.91,-2.57,3],[1.98,-2.45,3],[2.56,-2.83,3],[2.42,-2.78,2],[2.32,-2.88,2],[1.57,-2.94,2],[3.24,-4.3,2],[1.35,-2.1,1],[1.7,-1.75,1],[2.2,-2.25,1],[1.1,-1.75,3]];
const purpleD2 = [[-1.1,-1.05,3],[-1.45,-1.1,3],[-1.8,-1.2,3],[-1.25,-1.3,3],[-1.6,-1.4,3],[-1.05,-1.55,3],[-1.4,-1.6,3],[-1.75,-1.65,3],[-2.1,-1.75,3],[-1.2,-1.85,3],[-1.55,-1.9,3],[-1.9,-1.95,3],[-2.25,-2.05,3],[-1.35,-2.15,3],[-1.7,-2.2,3],[-2.05,-2.3,3],[-2.4,-2.4,3],[-1.5,-2.45,2],[-1.85,-2.55,3],[-2.2,-2.6,3],[-2.55,-2.7,3],[-2.86,-2.05,3],[-2.69,-2.39,3],[-2.35,-2.12,3],[-3.03,-2.8,3],[-3.37,-2.94,3],[-3.71,-3.07,3],[-2.8,-3.0,3],[-3.2,-3.2,3],[-3.29,-3.62,3],[-3.92,-3.35,3],[-4.22,-3.37,2],[-4.91,-3.14,2],[-4.57,-3.76,2],[-5.04,-5.05,3],[-6.1,-5.48,3],[-2.6,-1.4,1],[-3.6,-2.7,1],[-1.0,-2.0,3],[-2.0,-1.0,1],[-1.3,-1.15,3],[-1.6,-1.25,3],[-1.2,-1.45,3],[-1.55,-1.5,3],[-1.9,-1.55,3],[-1.35,-1.75,3],[-1.7,-1.8,3],[-2.05,-1.85,3],[-1.2,-2.05,3],[-1.55,-2.05,3],[-1.9,-2.15,3],[-2.2,-2.25,3],[-1.65,-2.4,3],[-2.0,-2.45,3],[-2.35,-2.55,3],[-2.7,-2.55,3],[-2.5,-2.2,3],[-2.95,-2.4,3],[-3.2,-2.65,3],[-3.5,-3.0,3],[-3.0,-3.1,3],[-3.6,-3.3,3]];
const genesD2 = [['PLXNB2',-3.24,2.53],['UQCRC1',-3.15,2.46],['RALGAPA1',-2.5,2.2],['TDP1',-2.74,1.96],['CPPED1',-3.75,1.37],['NOP16',1.74,2.53],['CTSC',1.93,2.34],['TMX4',2.81,2.5],['AFP',2.67,2.26],['ANKMY2',3.15,1.01],['CKMT1B',2.56,-2.83],['TMEM17',1.57,-2.94],['CMAS',2.42,-2.78],['GTPBP1',2.32,-2.88],['CACTIN',3.24,-4.3],['NFU1',-4.91,-3.14],['MAD2L2',-3.92,-3.35],['ING5',-4.57,-3.76],['PRPF39',-5.04,-5.05],['ING1',-6.1,-5.48]];

// ---------- layout (pixels) and label offsets (pixels, x later scaled) ----------
const labelOffsets = [
 [[-24,-19],[9,-23],[-14,-12],[21,-9],[-12,10],[-3,-15],[16,-15],[39,-12],[8,8],[34,0],[20,-14],[53,2],[21,9],[6,15],[19,15],[2,-13],[-22,5],[21,3],[1,13],[-4,12]],
 [[-7,-27],[5,-14],[4,-16],[27,-8],[-8,-13],[4,-31],[-2,-16],[17,-15],[35,-3],[-2,-15],[28,8],[-3,-16],[-10,14],[23,8],[18,22],[-3,-14],[-32,4],[-9,14],[18,33],[-4,12]],
 [[0,-14],[19,-16],[-12,-11],[19,-13],[-13,7],[14,-15],[16,-16],[28,-7],[17,-9],[47,13],[34,-14],[29,-10],[-3,13],[50,5],[8,27],[-12,-3],[-5,-23],[32,6],[-12,1],[12,13],[8,17]],
 [[-15,-39],[14,-30],[6,-18],[-30,-8],[-11,12],[9,-15],[23,-15],[-5,-15],[23,-12],[18,-9],[-4,-8],[28,-4],[-13,11],[27,3],[12,20],[-6,-14],[-15,1],[29,-3],[35,4],[-13,-2],[11,22]],
 [[1,-34],[-20,-13],[34,-10],[-13,-7],[15,10],[0,-30],[2,-14],[20,-6],[21,11],[34,9],[3,-4],[21,-17],[2,11],[39,2],[12,12],[-21,-10],[-9,7],[3,27],[3,52],[-5,11]],
 [[0,-39],[22,-14],[-9,-13],[33,1],[-13,-7],[7,-20],[25,-22],[17,-14],[20,2],[21,-15],[17,-14],[45,-10],[29,8],[3,19],[19,12],[-13,10],[-12,10],[0,12],[18,12],[-6,12]],
 [[-11,-6],[3,-38],[26,-15],[-16,-3],[19,-14],[-11,-15],[16,-17],[-6,-14],[22,-3],[33,-4],[2,-13],[25,-12],[-11,12],[25,10],[19,11],[-13,-15],[-17,10],[19,13],[27,12],[-10,12]],
 [[-21,-39],[-3,-17],[40,-14],[-6,5],[-24,-7],[-3,-38],[22,-18],[42,-8],[18,11],[35,6],[37,-12],[-5,11],[17,14],[2,37],[29,14],[-13,3],[21,-2],[-5,13],[18,12],[-5,12]]
];
const offScaleX = 1.148;
const panels = [
 {grid:[79,33,348,378], titleY:24, leg:[443,163], comp:[442,241], sizes:[256,269,283], cx:447.7, tx:459, names:namesA, d:[greyA1,blueA1,orangeA1,redA1,purpleA1], genes:genesA1},
 {grid:[806,33,355,380], titleY:24, leg:[1175,164], comp:[1175,241], sizes:[256,269,283], cx:1179.7, tx:1191, names:namesA, d:[greyA2,blueA2,orangeA2,redA2,purpleA2], genes:genesA2},
 {grid:[81,483,346,379], titleY:469, leg:[443,614], comp:[442,691], sizes:[706,720,734], cx:447.7, tx:459, names:namesB, d:[greyB1,blueB1,orangeB1,redB1,purpleB1], genes:genesB1},
 {grid:[815,480,352,379], titleY:469, leg:[1183,610], comp:[1181,688], sizes:[703,717,731], cx:1187.7, tx:1198, names:namesB, d:[greyB2,blueB2,orangeB2,redB2,purpleB2], genes:genesB2},
 {grid:[86,933,345,378], titleY:919, leg:[446,1062], comp:[445,1141], sizes:[1155,1169,1183], cx:451, tx:462, names:namesC, d:[greyC1,blueC1,orangeC1,redC1,purpleC1], genes:genesC1},
 {grid:[825,928,348,377], titleY:920, leg:[1186,1058], comp:[1186,1135], sizes:[1150,1164,1178], cx:1191, tx:1201, names:namesC, d:[greyC2,blueC2,orangeC2,redC2,purpleC2], genes:genesC2},
 {grid:[81,1374,340,386], titleY:1365, leg:[436,1507], comp:[435,1586], sizes:[1601,1615,1629], cx:440.8, tx:452, names:namesD, d:[greyD1,blueD1,orangeD1,redD1,purpleD1], genes:genesD1},
 {grid:[818,1372,347,376], titleY:1365, leg:[1181,1501], comp:[1180,1578], sizes:[1592,1606,1620], cx:1185.4, tx:1197, names:namesD, d:[greyD2,blueD2,orangeD2,redD2,purpleD2], genes:genesD2}
];
const letterPos = [[3,-5],[3,457],[3,901],[3,1341]];
const colors = ['#D3D3D3','#3F72F5','#C98A10','#FF4500','#A020F0'];
const sizeMap = {1:2.7, 2:5.2, 3:8.4};
const legendDot = [1.2, 2.2, 3.4];
const FONT = 'Liberation Sans, Arial, sans-serif';
const FS = 14.2;

const chart = echarts.init(document.getElementById('c'), null, {renderer:'canvas'});
const grids=[], xAxes=[], yAxes=[], series=[], titles=[], legends=[], graphics=[];
panels.forEach((p,i)=>{
  const [gl,gt,gw,gh] = p.grid;
  grids.push({left:gl, top:gt, width:gw, height:gh, containLabel:false});
  const axisCommon = {
    gridIndex:i, type:'value', min:-7.75, max:7.75,
    axisLine:{show:true, onZero:false, lineStyle:{color:'#555', width:1}},
    axisTick:{show:true, length:3, customValues:tickValues, lineStyle:{color:'#555'}},
    axisLabel:{customValues:tickValues, formatter:v=>String(Math.abs(v)), color:'#4d4d4d', fontSize:FS, fontFamily:FONT},
    splitLine:{show:false}, nameLocation:'middle',
    nameTextStyle:{color:'#000', fontSize:FS, fontFamily:FONT}
  };
  xAxes.push(Object.assign({}, axisCommon, {name:xName, nameGap:23, axisLabel:Object.assign({}, axisCommon.axisLabel, {margin:4})}));
  yAxes.push(Object.assign({}, axisCommon, {name:yName, nameGap:26, axisLabel:Object.assign({}, axisCommon.axisLabel, {margin:6})}));
  titles.push({text:cellLines[i], left:gl+gw/2, top:p.titleY-8.5, textAlign:'center', padding:0,
    textStyle:{fontSize:FS, fontWeight:'normal', color:'#000', fontFamily:FONT}});
  const dash = {type:[4,3], color:'#999', width:0.8};
  const solid = {type:'solid', color:'#999', width:1};
  p.d.forEach((arr,k)=>{
    const s = {
      type:'scatter', name: k===0 ? ('other'+i) : p.names[k-1], xAxisIndex:i, yAxisIndex:i,
      data:arr, symbolSize:v=>sizeMap[v[2]], itemStyle:{color:colors[k], opacity:1},
      z: k===0 ? 2 : 3, silent:true, animation:false
    };
    if(k===0){
      s.markLine = {silent:true, symbol:'none', animation:false, label:{show:false}, z:1,
        data:[{xAxis:0, lineStyle:solid},{yAxis:0, lineStyle:solid},
              {xAxis:-1, lineStyle:dash},{xAxis:1, lineStyle:dash},
              {yAxis:-1, lineStyle:dash},{yAxis:1, lineStyle:dash}]};
    }
    series.push(s);
  });
  const offs = labelOffsets[i];
  series.push({
    type:'scatter', name:'labels'+i, xAxisIndex:i, yAxisIndex:i, z:5, silent:true, animation:false,
    data:p.genes.map(g=>({name:g[0], value:[g[1],g[2]]})),
    symbolSize:4, itemStyle:{color:'rgba(0,0,0,0)'},
    label:{show:true, position:'inside', formatter:'{b}', color:'#000', fontSize:FS, fontFamily:FONT},
    labelLine:{show:true, lineStyle:{color:'#000', width:0.7}},
    labelLayout:function(params){ const o=offs[params.dataIndex]||[0,0]; return {dx:o[0]*offScaleX, dy:o[1]}; }
  });
  legends.push({orient:'vertical', left:p.leg[0], top:p.leg[1], padding:0, itemGap:0, itemWidth:9, itemHeight:3.5,
    icon:'circle', symbolKeepAspect:true, selectedMode:false, data:p.names,
    textStyle:{fontSize:FS, color:'#000', fontFamily:FONT, lineHeight:14}});
  graphics.push({type:'text', x:p.comp[0], y:p.comp[1], silent:true,
    style:{text:compTitle, fill:'#000', fontSize:FS, fontFamily:FONT, verticalAlign:'middle'}});
  sizeLegendLabels.forEach((t,j)=>{
    graphics.push({type:'circle', silent:true, shape:{cx:p.cx, cy:p.sizes[j], r:legendDot[j]}, style:{fill:'#000'}});
    graphics.push({type:'text', x:p.tx, y:p.sizes[j], silent:true,
      style:{text:t, fill:'#000', fontSize:FS, fontFamily:FONT, verticalAlign:'middle'}});
  });
});
panelLetters.forEach((l,j)=>{
  graphics.push({type:'text', x:letterPos[j][0], y:letterPos[j][1], silent:true,
    style:{text:l, fill:'#000', fontSize:21, fontFamily:FONT}});
});
chart.setOption({
  backgroundColor:'#fff', animation:false,
  title:titles, grid:grids, xAxis:xAxes, yAxis:yAxes, legend:legends, series:series, graphic:graphics
});
</script></body></html>
